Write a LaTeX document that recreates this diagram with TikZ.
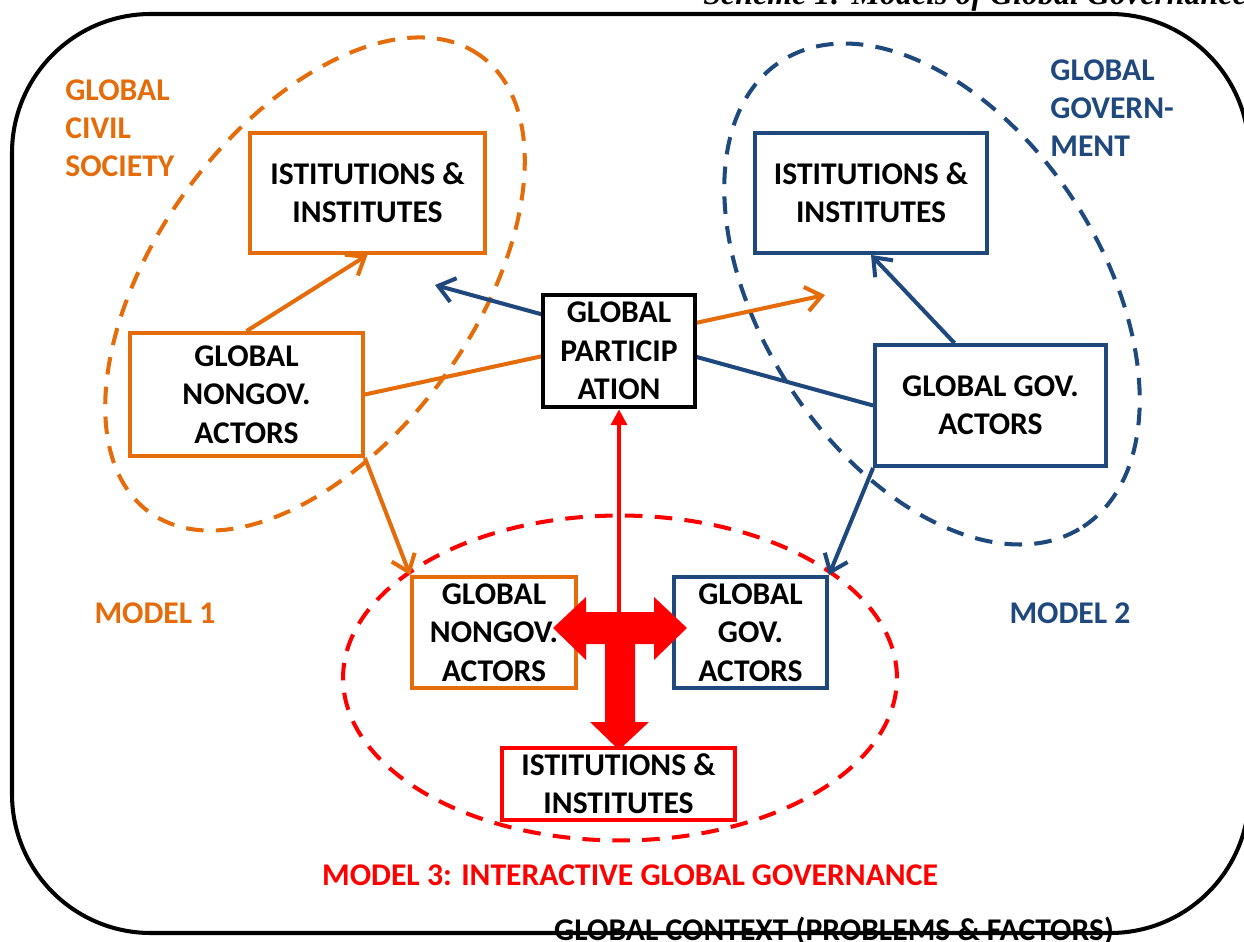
\documentclass[tikz,border=0pt]{standalone}
\usepackage{fontspec}
\newfontfamily\carlito{Carlito}
\newfontfamily\timesbi{Liberation Serif}
\usetikzlibrary{arrows.meta,calc}
\definecolor{gorange}{HTML}{E46C0A}
\definecolor{gblue}{HTML}{1F497D}
\definecolor{gred}{HTML}{FF0000}
\pgfdeclarelayer{bg}
\pgfsetlayers{bg,main}
\tikzset{>={Straight Barb[length=9pt,width=14pt]}}
\newcommand*{\lab}{\carlito\bfseries\fontsize{18}{21.8}\selectfont}
\tikzset{
  box/.style={draw,line width=2.2pt,fill=white,align=center,inner sep=0pt,font=\lab},
  link/.style={line width=2.3pt,->},
  zone/.style={line width=2.3pt,dash pattern=on 10pt off 7pt},
  tag/.style={font=\lab,align=left,inner sep=0pt}
}

\begin{document}
\begin{tikzpicture}[x=0.02cm,y=-0.02cm]
\clip (0,0) rectangle (1244,942);
\draw[line width=2.3pt,rounded corners=2.78cm] (12,14) rectangle (1249,933);
\node[anchor=base west,inner sep=0pt,font=\timesbi\bfseries\itshape\fontsize{18.2}{20}\selectfont] (title) at (703,5) {Scheme 1: Models of Global Governance};

% boxes
\node[box,draw=gorange,minimum width=4.7cm,minimum height=2.4cm] (oinst) at (367.5,193) {ISTITUTIONS \&\\INSTITUTES};
\node[box,draw=gorange,minimum width=4.66cm,minimum height=2.46cm] (onong) at (246.5,394.5) {GLOBAL\\NONGOV.\\ACTORS};
\node[box,line width=2.6pt,minimum width=3.04cm,minimum height=2.24cm] (gp) at (619,351) {GLOBAL\\PARTICIP\\ATION};
\node[box,draw=gblue,minimum width=4.64cm,minimum height=2.4cm] (binst) at (871,193) {ISTITUTIONS \&\\INSTITUTES};
\node[box,draw=gblue,minimum width=4.62cm,minimum height=2.42cm] (bgov) at (990.5,405.5) {GLOBAL GOV.\\ACTORS};
\node[box,draw=gorange,minimum width=3.28cm,minimum height=2.22cm] (onong2) at (494,632.5) {GLOBAL\\NONGOV.\\ACTORS};
\node[box,draw=gblue,minimum width=3.06cm,minimum height=2.22cm] (bgov2) at (750.5,632.5) {GLOBAL\\GOV.\\ACTORS};
\node[box,draw=gred,minimum width=4.66cm,minimum height=1.44cm] (rinst) at (618.5,784) {ISTITUTIONS \&\\INSTITUTES};

\coordinate (ohead) at (825,295);
\coordinate (bhead) at (435,285);
\coordinate (tjoin) at (619,612);

\begin{pgfonlayer}{bg}
\coordinate (gcs) at (315,284);
\coordinate (ggov) at (932,294);
\coordinate (iggov) at (620,678);
\draw[zone,gorange,rotate around={54:(gcs)}] (gcs) ellipse [x radius=5.64cm,y radius=3.18cm];
\draw[zone,gblue,rotate around={-57:(ggov)}] (ggov) ellipse [x radius=5.55cm,y radius=3.4cm];
\draw[zone,gred] (iggov) ellipse [x radius=5.54cm,y radius=3.25cm];

\draw[link,gorange] (onong.north) -- (oinst.south);
\draw[link,gorange] (onong.east) -- (ohead);
\draw[link,gorange] (onong.south east) -- (onong2.north west);
\draw[link,gblue] (bgov.west) -- (bhead);
\draw[link,gblue] (bgov.120) -- (binst.south);
\draw[link,gblue] (bgov.south west) -- (bgov2.north east);
\end{pgfonlayer}

% interaction arrows
\draw[gred,line width=2.3pt,-{Triangle[length=9pt,width=9pt]}] (tjoin) -- (gp.south);
\fill[gred] (553,628) -- (586,597) -- (586,612) -- (654,612) -- (654,597) -- (687,628)
  -- (654,660) -- (654,644) -- (635,644) -- (635,722) -- (649,722) -- (619,750)
  -- (590,722) -- (605,722) -- (605,644) -- (586,644) -- (586,660) -- cycle;

% labels
\node[tag,text=gorange,anchor=base west] (civil) at (65,177) {GLOBAL\\CIVIL\\SOCIETY};
\node[tag,text=gblue,anchor=base west] (govern) at (1050,157) {GLOBAL\\GOVERN-\\MENT};
\node[tag,text=gorange] (m1) at (155,613) {MODEL 1};
\node[tag,text=gblue] (m2) at (1070,613) {MODEL 2};
\node[tag,text=gred] (m3) at (630,875) {MODEL 3: INTERACTIVE GLOBAL GOVERNANCE};
\node[tag,anchor=base] (context) at (834,940) {GLOBAL CONTEXT (PROBLEMS \& FACTORS)};
\end{tikzpicture}
\end{document}
